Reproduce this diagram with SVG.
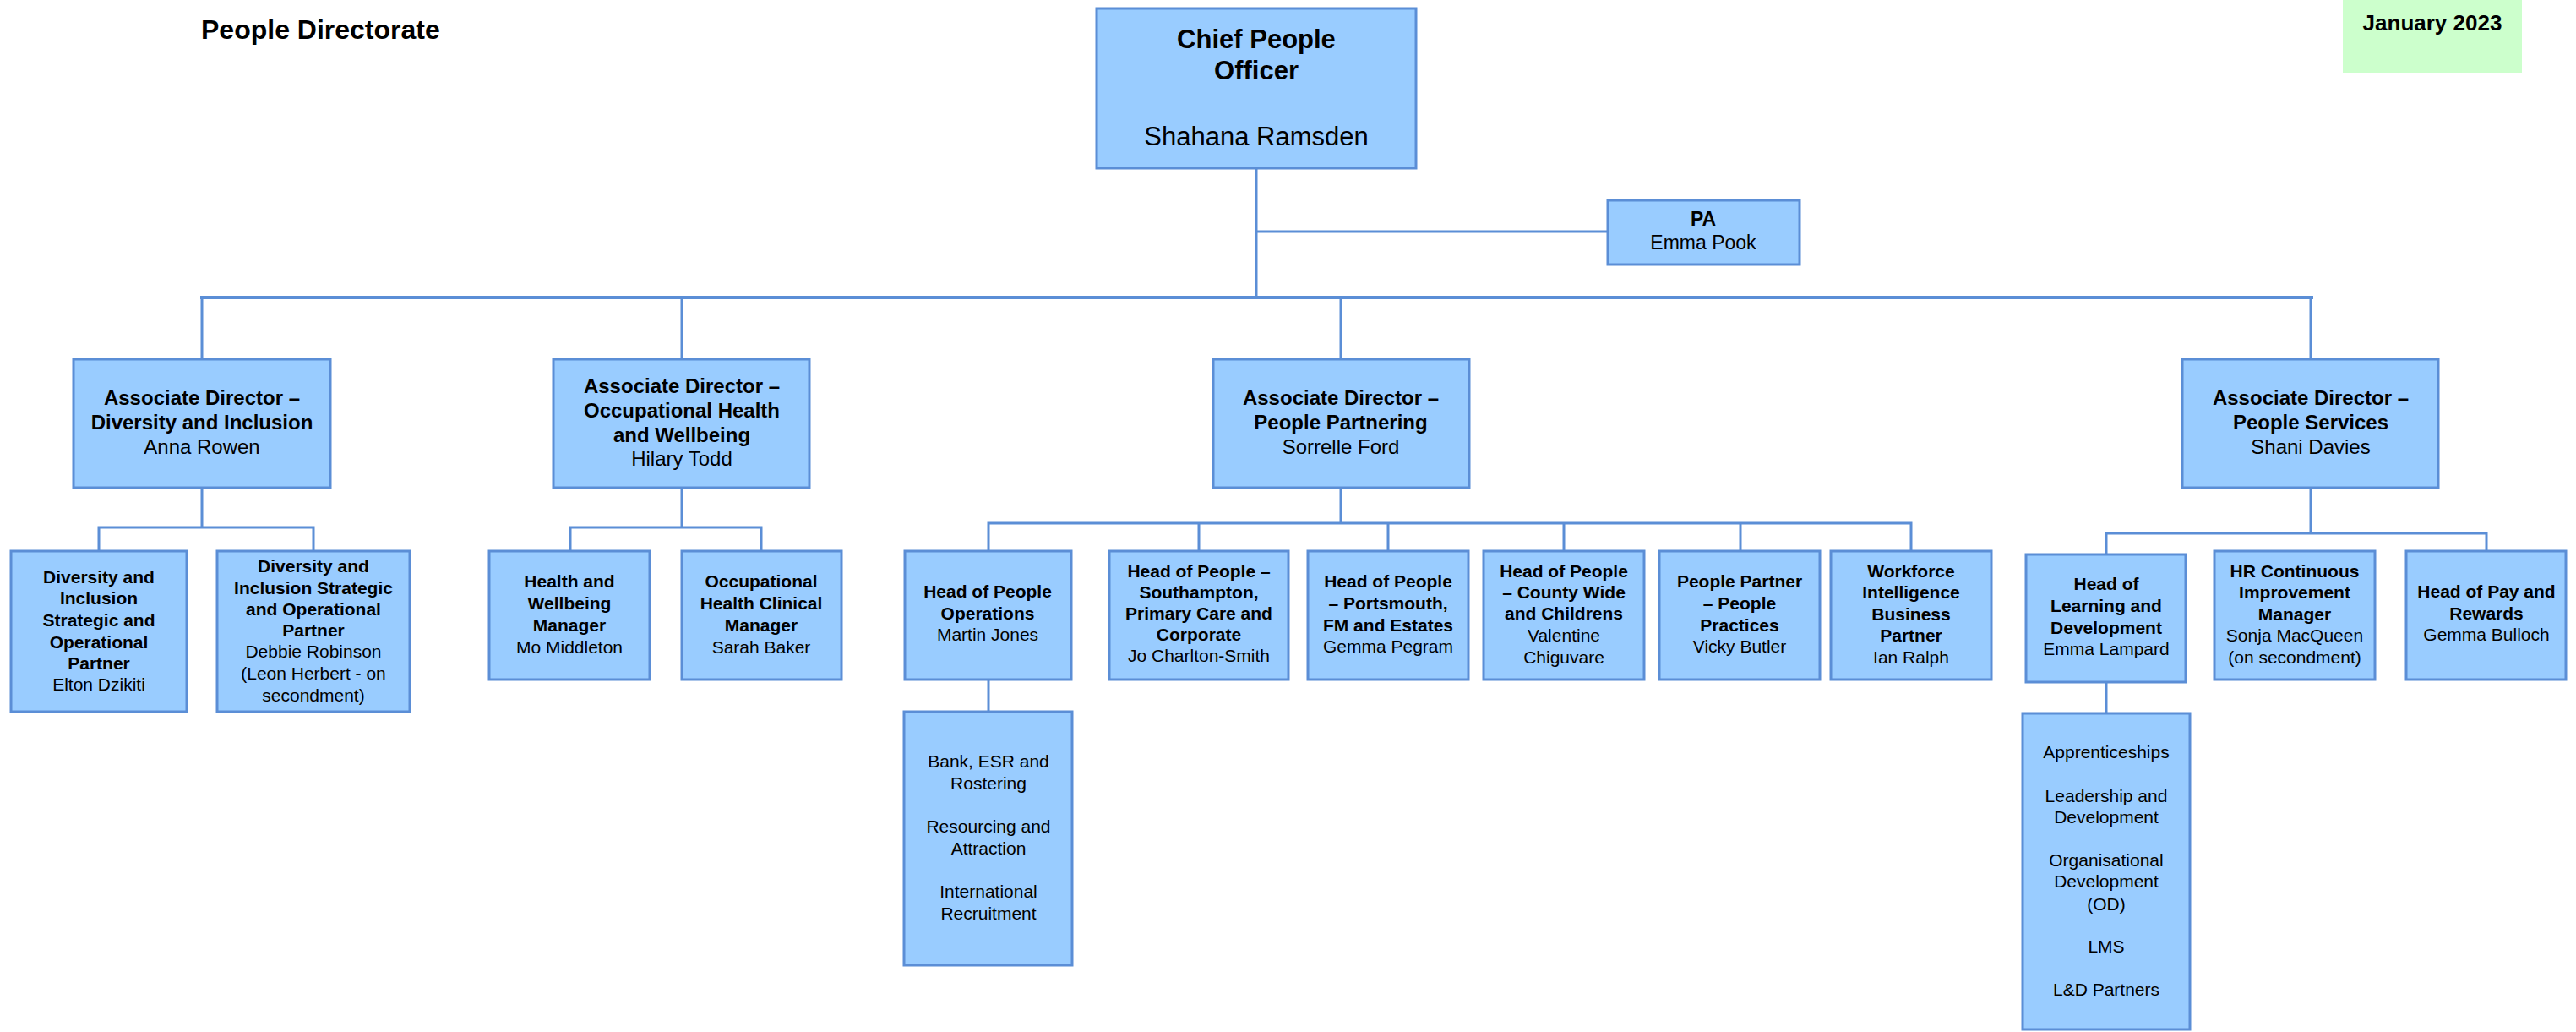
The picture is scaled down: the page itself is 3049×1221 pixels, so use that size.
<svg xmlns="http://www.w3.org/2000/svg" width="3049" height="1221" viewBox="0 0 3049 1221">
<style>
.box{fill:#99ccff;stroke:#5b8ed6;stroke-width:3}
.conn{stroke:#5b8ed6;stroke-width:3;fill:none;stroke-linecap:square}
text{font-family:"Liberation Sans",Arial,sans-serif;fill:#000;text-anchor:middle}
.b{font-weight:bold}
.t24{font-size:24px}
.t21{font-size:21px}
</style>
<rect width="3049" height="1221" fill="#ffffff"/>
<g id="title"><text x="238" y="46" class="b" style="font-size:32px;text-anchor:start">People Directorate</text></g>
<g id="date"><rect x="2773" y="0" width="212" height="86" fill="#ccffcc"/><text x="2879" y="36" class="b" style="font-size:26px">January 2023</text></g>

<g id="connectors">
<path class="conn" d="M1487 199V352M1487 274H1903"/>
<path class="conn" style="stroke-width:4" d="M239 352H2736"/>
<path class="conn" d="M239 352V425M807 352V425M1587 352V425M2735 352V425"/>
<path class="conn" d="M239 577V624M117 624H371M117 624V652M371 624V652"/>
<path class="conn" d="M807 577V624M675 624H901M675 624V652M901 624V652"/>
<path class="conn" d="M1587 577V619M1170 619H2262M1170 619V652M1419 619V652M1643 619V652M1851 619V652M2060 619V652M2262 619V652"/>
<path class="conn" d="M1170 804V842"/>
<path class="conn" d="M2735 577V631M2493 631H2943M2493 631V656M2943 631V652"/>
<path class="conn" d="M2493 807V844"/>
</g>

<g id="chief"><rect class="box" x="1298" y="10" width="378" height="189"/>
<text x="1487" y="57" class="b" style="font-size:31px">Chief People</text>
<text x="1487" y="94" class="b" style="font-size:31px">Officer</text>
<text x="1487" y="172" style="font-size:31px">Shahana Ramsden</text></g>

<g id="pa"><rect class="box" x="1903" y="237" width="227" height="76"/>
<text x="2016" y="267" class="b" style="font-size:23px">PA</text>
<text x="2016" y="295" style="font-size:23px">Emma Pook</text></g>

<g id="ad-di"><rect class="box" x="87" y="425" width="304" height="152"/>
<text x="239" y="479" class="b t24">Associate Director –</text>
<text x="239" y="508" class="b t24">Diversity and Inclusion</text>
<text x="239" y="537" class="t24">Anna Rowen</text></g>

<g id="ad-oh"><rect class="box" x="655" y="425" width="303" height="152"/>
<text x="807" y="465" class="b t24">Associate Director –</text>
<text x="807" y="494" class="b t24">Occupational Health</text>
<text x="807" y="523" class="b t24">and Wellbeing</text>
<text x="807" y="551" class="t24">Hilary Todd</text></g>

<g id="ad-pp"><rect class="box" x="1436" y="425" width="303" height="152"/>
<text x="1587" y="479" class="b t24">Associate Director –</text>
<text x="1587" y="508" class="b t24">People Partnering</text>
<text x="1587" y="537" class="t24">Sorrelle Ford</text></g>

<g id="ad-ps"><rect class="box" x="2583" y="425" width="303" height="152"/>
<text x="2735" y="479" class="b t24">Associate Director –</text>
<text x="2735" y="508" class="b t24">People Services</text>
<text x="2735" y="537" class="t24">Shani Davies</text></g>

<g id="di-partner"><rect class="box" x="13" y="652" width="208" height="190"/>
<text x="117" y="690" class="b t21">Diversity and</text>
<text x="117" y="715" class="b t21">Inclusion</text>
<text x="117" y="741" class="b t21">Strategic and</text>
<text x="117" y="767" class="b t21">Operational</text>
<text x="117" y="792" class="b t21">Partner</text>
<text x="117" y="817" class="t21">Elton Dzikiti</text></g>

<g id="di-strategic"><rect class="box" x="257" y="652" width="228" height="190"/>
<text x="371" y="677" class="b t21">Diversity and</text>
<text x="371" y="703" class="b t21">Inclusion Strategic</text>
<text x="371" y="728" class="b t21">and Operational</text>
<text x="371" y="753" class="b t21">Partner</text>
<text x="371" y="778" class="t21">Debbie Robinson</text>
<text x="371" y="804" class="t21">(Leon Herbert - on</text>
<text x="371" y="830" class="t21">secondment)</text></g>

<g id="hw-manager"><rect class="box" x="579" y="652" width="190" height="152"/>
<text x="674" y="695" class="b t21">Health and</text>
<text x="674" y="721" class="b t21">Wellbeing</text>
<text x="674" y="747" class="b t21">Manager</text>
<text x="674" y="773" class="t21">Mo Middleton</text></g>

<g id="ohc-manager"><rect class="box" x="807" y="652" width="189" height="152"/>
<text x="901" y="695" class="b t21">Occupational</text>
<text x="901" y="721" class="b t21">Health Clinical</text>
<text x="901" y="747" class="b t21">Manager</text>
<text x="901" y="773" class="t21">Sarah Baker</text></g>

<g id="hop-ops"><rect class="box" x="1071" y="652" width="197" height="152"/>
<text x="1169" y="707" class="b t21">Head of People</text>
<text x="1169" y="733" class="b t21">Operations</text>
<text x="1169" y="758" class="t21">Martin Jones</text></g>

<g id="hop-soton"><rect class="box" x="1313" y="652" width="212" height="152"/>
<text x="1419" y="683" class="b t21">Head of People –</text>
<text x="1419" y="708" class="b t21">Southampton,</text>
<text x="1419" y="733" class="b t21">Primary Care and</text>
<text x="1419" y="758" class="b t21">Corporate</text>
<text x="1419" y="783" class="t21">Jo Charlton-Smith</text></g>

<g id="hop-ports"><rect class="box" x="1548" y="652" width="190" height="152"/>
<text x="1643" y="695" class="b t21">Head of People</text>
<text x="1643" y="721" class="b t21">– Portsmouth,</text>
<text x="1643" y="747" class="b t21">FM and Estates</text>
<text x="1643" y="772" class="t21">Gemma Pegram</text></g>

<g id="hop-county"><rect class="box" x="1756" y="652" width="190" height="152"/>
<text x="1851" y="683" class="b t21">Head of People</text>
<text x="1851" y="708" class="b t21">– County Wide</text>
<text x="1851" y="733" class="b t21">and Childrens</text>
<text x="1851" y="759" class="t21">Valentine</text>
<text x="1851" y="785" class="t21">Chiguvare</text></g>

<g id="pp-practices"><rect class="box" x="1964" y="652" width="190" height="152"/>
<text x="2059" y="695" class="b t21">People Partner</text>
<text x="2059" y="721" class="b t21">– People</text>
<text x="2059" y="747" class="b t21">Practices</text>
<text x="2059" y="772" class="t21">Vicky Butler</text></g>

<g id="wf-intel"><rect class="box" x="2167" y="652" width="190" height="152"/>
<text x="2262" y="683" class="b t21">Workforce</text>
<text x="2262" y="708" class="b t21">Intelligence</text>
<text x="2262" y="734" class="b t21">Business</text>
<text x="2262" y="759" class="b t21">Partner</text>
<text x="2262" y="785" class="t21">Ian Ralph</text></g>

<g id="hold"><rect class="box" x="2398" y="656" width="189" height="151"/>
<text x="2493" y="698" class="b t21">Head of</text>
<text x="2493" y="724" class="b t21">Learning and</text>
<text x="2493" y="750" class="b t21">Development</text>
<text x="2493" y="775" class="t21">Emma Lampard</text></g>

<g id="hrci"><rect class="box" x="2621" y="652" width="190" height="152"/>
<text x="2716" y="683" class="b t21">HR Continuous</text>
<text x="2716" y="708" class="b t21">Improvement</text>
<text x="2716" y="734" class="b t21">Manager</text>
<text x="2716" y="759" class="t21">Sonja MacQueen</text>
<text x="2716" y="785" class="t21">(on secondment)</text></g>

<g id="pay"><rect class="box" x="2848" y="652" width="189" height="152"/>
<text x="2943" y="707" class="b t21">Head of Pay and</text>
<text x="2943" y="733" class="b t21">Rewards</text>
<text x="2943" y="758" class="t21">Gemma Bulloch</text></g>

<g id="ops-teams"><rect class="box" x="1070" y="842" width="199" height="300"/>
<text x="1170" y="908" class="t21">Bank, ESR and</text>
<text x="1170" y="934" class="t21">Rostering</text>
<text x="1170" y="985" class="t21">Resourcing and</text>
<text x="1170" y="1011" class="t21">Attraction</text>
<text x="1170" y="1062" class="t21">International</text>
<text x="1170" y="1088" class="t21">Recruitment</text></g>

<g id="ld-teams"><rect class="box" x="2394" y="844" width="198" height="374"/>
<text x="2493" y="897" class="t21">Apprenticeships</text>
<text x="2493" y="949" class="t21">Leadership and</text>
<text x="2493" y="974" class="t21">Development</text>
<text x="2493" y="1025" class="t21">Organisational</text>
<text x="2493" y="1050" class="t21">Development</text>
<text x="2493" y="1077" class="t21">(OD)</text>
<text x="2493" y="1127" class="t21">LMS</text>
<text x="2493" y="1178" class="t21">L&amp;D Partners</text></g>
</svg>
